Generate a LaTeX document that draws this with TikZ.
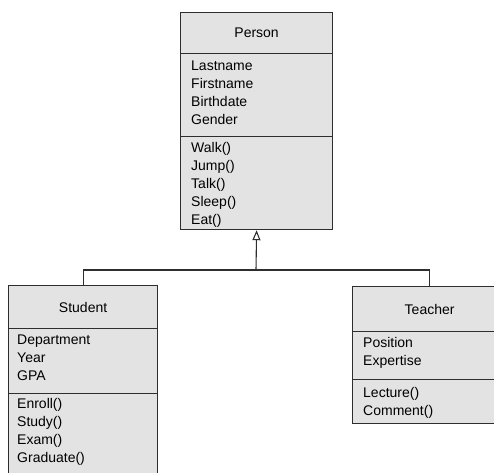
\documentclass[tikz,border=0pt]{standalone}
\usepackage{fontspec}
\setmainfont{Liberation Sans}
\usetikzlibrary{arrows.meta}
\definecolor{boxfill}{HTML}{E3E3E3}
\definecolor{ink}{HTML}{2E2E2E}
\tikzset{
  compart/.style={draw=ink, line width=1.2pt, fill=boxfill, anchor=north west,
    inner sep=0pt, font=\fontsize{14}{18}\selectfont},
  members/.style={anchor=north west, inner sep=0pt, align=left,
    font=\fontsize{14}{18}\selectfont},
  link/.style={draw=ink, line width=1.1pt},
  generalization/.style={-{Triangle[open, length=10pt, width=8pt, line width=1.1pt]}}
}
\begin{document}
\begin{tikzpicture}[x=1pt, y=-1pt]
  \useasboundingbox (0,0) rectangle (494,472);
  \clip (0,0) rectangle (494,472);

  % Person class
  \node[compart, minimum width=152pt, minimum height=41pt] (pT) at (180,12) {Person};
  \node[compart, minimum width=152pt, minimum height=83pt] (pA) at (180,53) {};
  \node[compart, minimum width=152pt, minimum height=93pt] (pM) at (180,136) {};
  \node[members] (pAt) at (191,57.4) {\strut Lastname\\Firstname\\Birthdate\\Gender};
  \node[members] (pMt) at (191,139.4) {\strut Walk()\\Jump()\\Talk()\\Sleep()\\Eat()};

  % Student class
  \node[compart, minimum width=149pt, minimum height=43pt] (sT) at (8,285) {Student};
  \node[compart, minimum width=149pt, minimum height=65pt] (sA) at (8,328) {};
  \node[compart, minimum width=149pt, minimum height=90pt] (sM) at (8,393) {};
  \node[members] (sAt) at (17,331.4) {\strut Department\\Year\\GPA};
  \node[members] (sMt) at (17,395.4) {\strut Enroll()\\Study()\\Exam()\\Graduate()};

  % Teacher class
  \node[compart, minimum width=154pt, minimum height=45pt] (tT) at (352,286) {Teacher};
  \node[compart, minimum width=154pt, minimum height=48pt] (tA) at (352,331) {};
  \node[compart, minimum width=154pt, minimum height=44pt] (tM) at (352,379) {};
  \node[members] (tAt) at (363,334.4) {\strut Position\\Expertise};
  \node[members] (tMt) at (363,384.4) {\strut Lecture()\\Comment()};

  % Inheritance connectors
  \coordinate (hub) at (256,270);
  \draw[link] (sT.north) |- (hub) -| (tT.north);
  \draw[link, generalization] (hub) -- (pM.south);
\end{tikzpicture}
\end{document}
